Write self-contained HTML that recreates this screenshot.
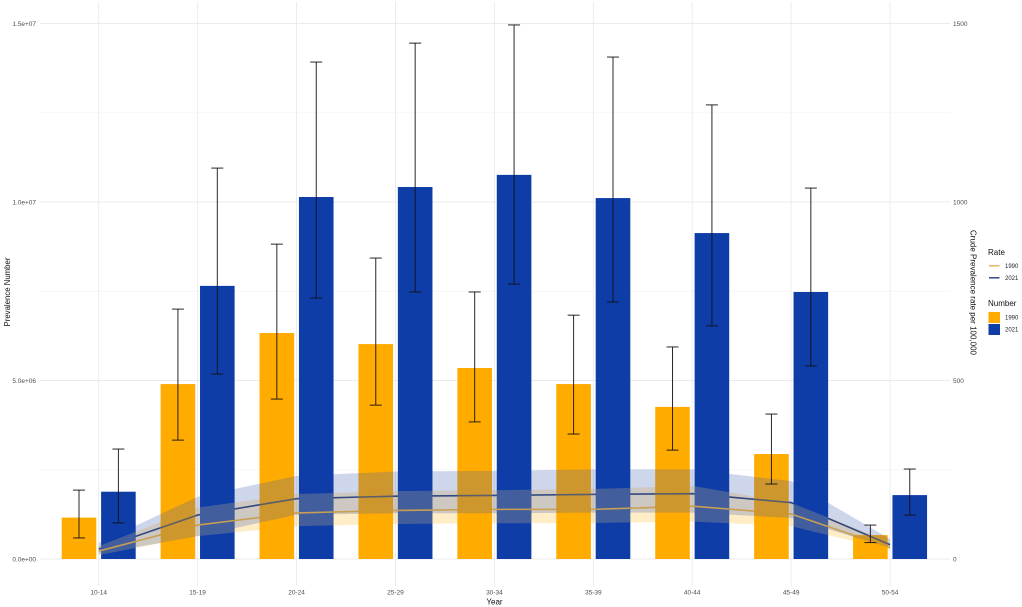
<!DOCTYPE html>
<html lang="en">
<head>
<meta charset="utf-8">
<title>Prevalence number and crude prevalence rate by age group</title>
<style>
html,body{margin:0;padding:0;background:#fff;width:1022px;height:607px;overflow:hidden}
svg{display:block;font-family:"Liberation Sans",Arial,sans-serif}
</style>
</head>
<body>
<svg id="chart" width="1022" height="607" viewBox="0 0 1022 607" xmlns="http://www.w3.org/2000/svg">
<rect x="0" y="0" width="1022" height="607" fill="#ffffff"/>
<defs><clipPath id="clip-orange"></clipPath><clipPath id="clip-blue"></clipPath></defs>
<g id="grid"></g>
<g id="under"></g>
<g id="bars"></g>
<g id="over"></g>
<g id="errors"></g>
<g id="ticks" font-size="6.5" fill="#4d4d4d"></g>
<text x="494.5" y="604.5" font-size="8" text-anchor="middle" fill="#111">Year</text>
<text transform="translate(10,292) rotate(-90)" font-size="7.8" text-anchor="middle" fill="#111">Prevalence Number</text>
<text transform="translate(970.5,292.5) rotate(90)" font-size="8" text-anchor="middle" fill="#111">Crude Prevalence rate per 100,000</text>
<g>
<text x="988" y="255" font-size="8" fill="#111">Rate</text>
<line x1="989" x2="999.5" y1="265.8" y2="265.8" stroke="#e5b765" stroke-width="1.5"/>
<text x="1005" y="268" font-size="6" fill="#222">1990</text>
<line x1="989" x2="999.5" y1="277.8" y2="277.8" stroke="#2f4a86" stroke-width="1.5"/>
<text x="1005" y="280" font-size="6" fill="#222">2021</text>
<text x="988" y="306" font-size="8" fill="#111">Number</text>
<rect x="988.5" y="312" width="11.5" height="11" fill="#FFAB00"/>
<text x="1005" y="319.5" font-size="6" fill="#222">1990</text>
<rect x="988.5" y="324" width="11.5" height="11" fill="#0F3DA8"/>
<text x="1005" y="331.5" font-size="6" fill="#222">2021</text>
</g>
</svg>
<script>
const categories = ["10-14","15-19","20-24","25-29","30-34","35-39","40-44","45-49","50-54"];
const leftTickValues = [0, 5000000, 10000000, 15000000];
const leftTickLabels = ["0.0e+00","5.0e+06","1.0e+07","1.5e+07"];
const leftMinorTicks = [2500000, 7500000, 12500000];
const rightTickValues = [0, 500, 1000, 1500];
const rightTickLabels = ["0","500","1000","1500"];

const number1990 = [1160000,4900000,6330000,6020000,5350000,4900000,4260000,2940000,670000];
const number2021 = [1885000,7650000,10140000,10420000,10760000,10110000,9130000,7480000,1790000];
const number1990Upper = [1930000,7000000,8820000,8430000,7480000,6830000,5940000,4060000,950000];
const number1990Lower = [590000,3330000,4480000,4310000,3840000,3500000,3050000,2100000,460000];
const number2021Upper = [3080000,10950000,13920000,14450000,14960000,14060000,12720000,10390000,2520000];
const number2021Lower = [1010000,5180000,7310000,7480000,7700000,7200000,6530000,5410000,1230000];

const rate1990 = [22,95,129,136,139,139,148,126,32];
const rate1990Upper = [36,144,182,190,193,196,205,157,48];
const rate1990Lower = [11,64,92,98,100,101,105,92,25];
const rate2021 = [28,123,169,176,178,181,183,158,40];
const rate2021Upper = [45,174,233,245,247,251,251,218,56];
const rate2021Lower = [14,64,124,128,128,130,130,115,31];

const NS = "http://www.w3.org/2000/svg";
const xScale = i => 98.7 + 98.92 * i;
const yNumber = v => 559 - v / 15000000 * 535.5;
const yRate = v => 559 - v / 1500 * 535.5;
const barOffset = 19.7;
const barWidth = 34.6;
const capHalf = 6;

function make(tag, attrs, parent) {
  const el = document.createElementNS(NS, tag);
  for (const k in attrs) el.setAttribute(k, attrs[k]);
  parent.appendChild(el);
  return el;
}
const gGrid = document.getElementById("grid");
const gUnder = document.getElementById("under");
const gBars = document.getElementById("bars");
const gOver = document.getElementById("over");
const gErr = document.getElementById("errors");
const gTicks = document.getElementById("ticks");
const clipOrange = document.getElementById("clip-orange");
const clipBlue = document.getElementById("clip-blue");

leftMinorTicks.forEach(v => {
  const l = make("line", {x1:40, x2:950, y1:yNumber(v), y2:yNumber(v), stroke:"#f3f3f3", "stroke-width":0.7}, gGrid);
  
  
});
leftTickValues.forEach((v, i) => {
  const l = make("line", {x1:40, x2:950, y1:yNumber(v), y2:yNumber(v), stroke:"#ebebeb", "stroke-width":0.9}, gGrid);
  
  
  const t = make("text", {x:36, y:yNumber(v) + 2.3, "text-anchor":"end"}, gTicks);
  t.textContent = leftTickLabels[i];
  
  
});
rightTickValues.forEach((v, i) => {
  const t = make("text", {x:953, y:yRate(v) + 2.3}, gTicks);
  t.textContent = rightTickLabels[i];
  
  
});
categories.forEach((c, i) => {
  const l = make("line", {x1:xScale(i), x2:xScale(i), y1:2, y2:586, stroke:"#ebebeb", "stroke-width":0.9}, gGrid);
  
  
  const t = make("text", {x:xScale(i), y:594.5, "text-anchor":"middle"}, gTicks);
  t.textContent = c;
  
  
});

function ribbonPoints(upper, lower) {
  const a = upper.map((v, i) => xScale(i) + "," + yRate(v));
  const b = lower.map((v, i) => xScale(i) + "," + yRate(v)).reverse();
  return a.concat(b).join(" ");
}
function linePoints(vals) {
  return vals.map((v, i) => xScale(i) + "," + yRate(v)).join(" ");
}
const ORANGE_RIBBON = {fill:"#FFAB00", "fill-opacity":0.22};
const ORANGE_RIBBON_ON_BLUE = {fill:"#E6C878", "fill-opacity":0.24};
const BLUE_RIBBON = {fill:"#3A5BB5", "fill-opacity":0.25};
const ORANGE_LINE = {fill:"none", stroke:"#c9a052", "stroke-width":1.6};
const BLUE_LINE = {fill:"none", stroke:"#33497f", "stroke-width":1.6};

const r1 = make("polygon", Object.assign({points:ribbonPoints(rate1990Upper, rate1990Lower)}, ORANGE_RIBBON), gUnder);


const r2 = make("polygon", Object.assign({points:ribbonPoints(rate2021Upper, rate2021Lower)}, BLUE_RIBBON), gUnder);


const l1 = make("polyline", Object.assign({points:linePoints(rate1990)}, ORANGE_LINE), gUnder);


const l2 = make("polyline", Object.assign({points:linePoints(rate2021)}, BLUE_LINE), gUnder);



categories.forEach((c, i) => {
  const xa = xScale(i) - barOffset - barWidth / 2;
  const ya = yNumber(number1990[i]);
  const ha = yNumber(0) - ya;
  const a = make("rect", {x:xa, y:ya, width:barWidth, height:ha, fill:"#FFAB00"}, gBars);
  
  
  make("rect", {x:xa, y:ya, width:barWidth, height:ha}, clipOrange);

  const xb = xScale(i) + barOffset - barWidth / 2;
  const yb = yNumber(number2021[i]);
  const hb = yNumber(0) - yb;
  const b = make("rect", {x:xb, y:yb, width:barWidth, height:hb, fill:"#0F3DA8"}, gBars);
  
  
  make("rect", {x:xb, y:yb, width:barWidth, height:hb}, clipBlue);
});

const o1 = make("polygon", Object.assign({points:ribbonPoints(rate2021Upper, rate2021Lower), "clip-path":"url(#clip-orange)"}, BLUE_RIBBON), gOver);


const o2 = make("polyline", Object.assign({points:linePoints(rate2021), "clip-path":"url(#clip-orange)", "stroke-opacity":0.75}, BLUE_LINE), gOver);


const o3 = make("polygon", Object.assign({points:ribbonPoints(rate1990Upper, rate1990Lower), "clip-path":"url(#clip-blue)"}, ORANGE_RIBBON_ON_BLUE), gOver);


const o4 = make("polyline", Object.assign({points:linePoints(rate1990), "clip-path":"url(#clip-blue)"}, ORANGE_LINE), gOver);



function errorBar(x, hi, lo, name) {
  const g = make("g", {stroke:"#111111", "stroke-opacity":0.9, "stroke-width":1, fill:"none"}, gErr);
  
  
  const yh = yNumber(hi), yl = yNumber(lo);
  make("line", {x1:x, x2:x, y1:yh, y2:yl}, g);
  make("line", {x1:x - capHalf, x2:x + capHalf, y1:yh, y2:yh}, g);
  make("line", {x1:x - capHalf, x2:x + capHalf, y1:yl, y2:yl}, g);
}
categories.forEach((c, i) => {
  errorBar(xScale(i) - barOffset, number1990Upper[i], number1990Lower[i], 'error-bar-1990-' + c);
  errorBar(xScale(i) + barOffset, number2021Upper[i], number2021Lower[i], 'error-bar-2021-' + c);
});
</script>
</body>
</html>
